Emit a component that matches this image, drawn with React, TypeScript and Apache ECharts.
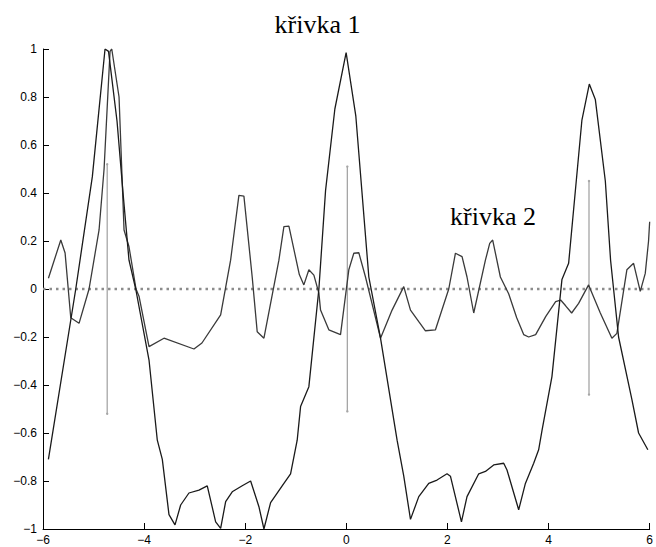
import React, { useEffect, useRef } from "react";
import * as echarts from "echarts";

// křivka 1 (black curve)
const curve1X = [
  -5.893, -5.352, -5.024, -4.773, -4.704, -4.536, -4.417, -4.299, -4.166, -3.903,
  -3.739, -3.64, -3.508, -3.389, -3.277, -3.113, -2.915, -2.751, -2.585, -2.486,
  -2.387, -2.257, -2.059, -1.893, -1.729, -1.63, -1.498, -1.269, -1.103, -0.972,
  -0.905, -0.741, -0.543, -0.411, -0.227, -0.004, 0.188, 0.445, 0.676, 1.004,
  1.136, 1.269, 1.433, 1.63, 1.794, 1.992, 2.059, 2.277, 2.387, 2.619,
  2.751, 2.915, 3.113, 3.178, 3.409, 3.542, 3.706, 3.804, 3.87, 4.067,
  4.265, 4.397, 4.66, 4.806, 4.925, 5.123, 5.227, 5.385, 5.648, 5.781, 5.964,
];
const curve1Y = [
  -0.71, 0.0, 0.468, 1.0, 0.99, 0.7, 0.4, 0.12, 0.0, -0.296,
  -0.63, -0.71, -0.94, -0.983, -0.9, -0.85, -0.838, -0.82, -0.97, -0.997,
  -0.886, -0.845, -0.82, -0.8, -0.907, -1.0, -0.89, -0.82, -0.77, -0.63,
  -0.49, -0.407, 0.0, 0.41, 0.75, 0.985, 0.72, 0.05, -0.205, -0.63,
  -0.78, -0.96, -0.865, -0.81, -0.796, -0.77, -0.78, -0.97, -0.865, -0.77,
  -0.76, -0.733, -0.726, -0.754, -0.92, -0.81, -0.726, -0.67, -0.59, -0.365,
  0.04, 0.107, 0.704, 0.854, 0.79, 0.45, 0.12, -0.2, -0.46, -0.6, -0.67,
];

// křivka 2 (dark grey curve)
const curve2X = [
  -5.893, -5.648, -5.563, -5.451, -5.287, -5.089, -4.891, -4.792, -4.674, -4.64,
  -4.496, -4.397, -4.299, -4.16, -4.101, -3.903, -3.607, -3.014, -2.856, -2.486,
  -2.289, -2.125, -2.026, -1.862, -1.763, -1.63, -1.334, -1.235, -1.136, -0.93,
  -0.84, -0.741, -0.642, -0.543, -0.51, -0.346, -0.115, 0.049, 0.148, 0.247,
  0.379, 0.676, 0.905, 1.136, 1.269, 1.433, 1.565, 1.763, 2.026, 2.158,
  2.289, 2.387, 2.52, 2.751, 2.836, 2.895, 3.047, 3.211, 3.37, 3.508,
  3.607, 3.745, 3.943, 4.14, 4.239, 4.338, 4.457, 4.595, 4.792, 5.024,
  5.253, 5.352, 5.549, 5.682, 5.814, 5.913, 5.978, 6.0,
];
const curve2Y = [
  0.045, 0.204, 0.15, -0.12, -0.143, 0.0, 0.246, 0.5, 0.99, 1.0,
  0.8, 0.246, 0.176, 0.0, -0.03, -0.24, -0.205, -0.25, -0.225, -0.108,
  0.12, 0.39, 0.387, 0.05, -0.178, -0.205, 0.12, 0.26, 0.262, 0.06,
  0.017, 0.08, 0.058, -0.017, -0.088, -0.17, -0.19, 0.08, 0.149, 0.151,
  0.05, -0.205, -0.088, 0.01, -0.088, -0.136, -0.174, -0.17, 0.0, 0.149,
  0.135, 0.05, -0.1, 0.12, 0.19, 0.204, 0.05, -0.02, -0.12, -0.19,
  -0.2, -0.19, -0.115, -0.053, -0.046, -0.07, -0.1, -0.06, 0.017, -0.1,
  -0.205, -0.185, 0.08, 0.107, -0.01, 0.065, 0.2, 0.28,
];

// vertical grey bars
const stemX = [-4.73, 0.02, 4.8];
const stemLow = [-0.52, -0.51, -0.44];
const stemHigh = [0.52, 0.51, 0.45];

// dotted zero line
const zeroLineX = [-6, 6];
const zeroLineY = [0, 0];

const xTicks = [-6, -4, -2, 0, 2, 4, 6];
const yTicks = [-1, -0.8, -0.6, -0.4, -0.2, 0, 0.2, 0.4, 0.6, 0.8, 1];

const titleText = "křivka 1";
const label2Text = "křivka 2";

const fmt = (v: number) => {
  const r = Math.round(v * 10) / 10;
  if (r < 0) return "\u2212" + String(-r);
  return String(r);
};

export default function App() {
  const ref = useRef<HTMLDivElement>(null);

  useEffect(() => {
    if (!ref.current) return;
    const chart = echarts.init(ref.current, undefined, { renderer: "svg" });
    const c1 = curve1X.map((x, i) => [x, curve1Y[i]]);
    const c2 = curve2X.map((x, i) => [x, curve2Y[i]]);
    const zero = zeroLineX.map((x, i) => [x, zeroLineY[i]]);
    const stems = stemX.map((x, i) => [x, stemLow[i], stemHigh[i]]);
    const labelStyle = {
      color: "#000",
      fontFamily: "Liberation Sans, Arial, sans-serif",
      fontSize: 12,
    };
    chart.setOption({
      animation: false,
      backgroundColor: "#fff",
      grid: { left: 43, right: 5, top: 49, bottom: 18, containLabel: false },
      graphic: [
        {
          type: "text",
          x: 317.5,
          y: 24,
          style: {
            text: titleText,
            font: "26px 'Liberation Serif', 'Times New Roman', serif",
            fill: "#000",
            textAlign: "center",
            textVerticalAlign: "middle",
          },
        },
        {
          type: "text",
          x: 493,
          y: 216,
          style: {
            text: label2Text,
            font: "26px 'Liberation Serif', 'Times New Roman', serif",
            fill: "#000",
            textAlign: "center",
            textVerticalAlign: "middle",
          },
        },
      ],
      xAxis: {
        type: "value",
        min: xTicks[0],
        max: xTicks[xTicks.length - 1],
        interval: 2,
        axisLine: { show: true, onZero: false, lineStyle: { color: "#000", width: 1 } },
        axisTick: { show: true, inside: true, length: 6, lineStyle: { color: "#000" } },
        splitLine: { show: false },
        axisLabel: { ...labelStyle, margin: 5, formatter: fmt, showMinLabel: true, showMaxLabel: true },
      },
      yAxis: {
        type: "value",
        min: yTicks[0],
        max: yTicks[yTicks.length - 1],
        interval: 0.2,
        axisLine: { show: true, onZero: false, lineStyle: { color: "#000", width: 1 } },
        axisTick: { show: true, inside: true, length: 6, lineStyle: { color: "#000" } },
        splitLine: { show: false },
        axisLabel: { ...labelStyle, margin: 6, formatter: fmt, showMinLabel: true, showMaxLabel: true },
      },
      series: [
        {
          type: "line",
          data: zero,
          showSymbol: false,
          silent: true,
          lineStyle: { color: "#8c8c8c", width: 2.5, type: [2.5, 4] },
          z: 1,
        },
        {
          type: "custom",
          data: stems,
          silent: true,
          z: 2,
          renderItem: (params: any, api: any) => {
            const x = api.value(0);
            const p1 = api.coord([x, api.value(1)]);
            const p2 = api.coord([x, api.value(2)]);
            return {
              type: "group",
              children: [
                {
                  type: "line",
                  shape: { x1: p1[0], y1: p1[1], x2: p2[0], y2: p2[1] },
                  style: { stroke: "#a6a6a6", lineWidth: 1.3 },
                },
                {
                  type: "circle",
                  shape: { cx: p1[0], cy: p1[1], r: 1.2 },
                  style: { fill: "#a6a6a6" },
                },
                {
                  type: "circle",
                  shape: { cx: p2[0], cy: p2[1], r: 1.2 },
                  style: { fill: "#a6a6a6" },
                },
              ],
            };
          },
        },
        {
          type: "line",
          name: label2Text,
          data: c2,
          showSymbol: false,
          silent: true,
          lineStyle: { color: "#3a3a3a", width: 1.3 },
          z: 3,
        },
        {
          type: "line",
          name: titleText,
          data: c1,
          showSymbol: false,
          silent: true,
          lineStyle: { color: "#1a1a1a", width: 1.3 },
          z: 4,
        },
      ],
    });
    return () => chart.dispose();
  }, []);

  return (
    <div
      ref={ref}
      style={{ position: "absolute", left: 0, top: 0, width: 656, height: 547, background: "#fff" }}
    />
  );
}
